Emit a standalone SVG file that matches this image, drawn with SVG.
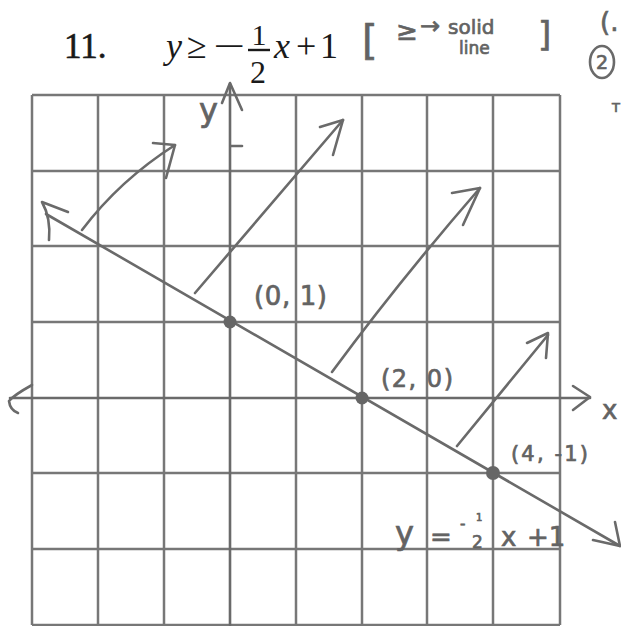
<svg xmlns="http://www.w3.org/2000/svg" width="621" height="626" viewBox="0 0 621 626">
<style>
.grid{stroke:#777;stroke-width:2.5;fill:none}
.pen{stroke:#6a6a6a;stroke-width:2.6;fill:none;stroke-linecap:round;stroke-linejoin:round}
.hand{font-family:"DejaVu Sans",sans-serif;fill:#636363;stroke:#636363;stroke-width:0.7}
.print{font-family:"Liberation Serif",serif;fill:#1a1a1a}
</style>
<rect width="621" height="626" fill="#fff"/>
<g id="title">
<text class="print" x="64" y="58" font-size="35" stroke="#1a1a1a" stroke-width="0.6">11.</text>
<text class="print" x="166" y="58" font-size="36" font-style="italic">y</text>
<text class="print" x="187" y="58" font-size="36">≥</text>
<text class="print" x="213" y="58" font-size="36" textLength="32" lengthAdjust="spacingAndGlyphs">−</text>
<text class="print" x="259" y="45" font-size="30" text-anchor="middle">1</text>
<line x1="248" y1="50" x2="270" y2="50" stroke="#1a1a1a" stroke-width="2.4"/>
<text class="print" x="258" y="83" font-size="32" text-anchor="middle">2</text>
<text class="print" x="274" y="58" font-size="36" font-style="italic">x</text>
<text class="print" x="296" y="58" font-size="36">+</text>
<text class="print" x="320" y="58" font-size="36">1</text>
</g>
<g id="note">
<text class="hand" x="362" y="54" font-size="40">[</text>
<text class="hand" x="396" y="40" font-size="26">≥</text>
<text class="hand" x="420" y="34" font-size="24">→</text>
<text class="hand" x="448" y="34" font-size="20">solid</text>
<text class="hand" x="459" y="54" font-size="17">line</text>
<text class="hand" x="538" y="46" font-size="34">]</text>
<text class="hand" x="600" y="31" font-size="26">(.</text>
<ellipse cx="602" cy="62" rx="12" ry="16" class="pen" stroke-width="2.2"/>
<text class="hand" x="602" y="69" font-size="19" text-anchor="middle">2</text>
<text class="hand" x="612" y="112" font-size="13">T</text>
</g>
<g id="grid" class="grid">
<path d="M32,95V625M98,95V625M164,95V625M296,95V625M362,95V625M427,95V625M493,95V625M560,95V625"/>
<path d="M32,95H560M32,171H560M32,246H560M32,322H560M32,473H560M32,549H560M32,625H560"/>
</g>
<g id="axes" class="pen">
<path d="M230,84V625"/>
<path d="M222,103L230,83L242,110"/>
<path d="M231,146H242"/>
<path d="M10,398H590"/>
<path d="M32,385Q14,395 9,401Q10,410 18,413"/>
<path d="M573,386L590,397L573,410"/>
</g>
<g id="axis-labels">
<text class="hand" x="199" y="121" font-size="32">y</text>
<text class="hand" x="602" y="419" font-size="26">x</text>
</g>
<g id="boundary" class="pen" stroke-width="3">
<path d="M46,214L620,546"/>
<path d="M68,212L42,202Q51,218 49,240"/>
<path d="M615,522L620,546L593,540"/>
</g>
<g id="points" fill="#666">
<circle cx="230" cy="322" r="6.5"/>
<circle cx="362" cy="398" r="6.5"/>
<circle cx="493" cy="473" r="7"/>
</g>
<g id="shading" class="pen">
<path d="M82,230Q120,180 175,145"/>
<path d="M153,143L175,145L166,178"/>
<path d="M195,293L343,120"/>
<path d="M320,127L343,120L333,155"/>
<path d="M332,372Q400,280 480,188"/>
<path d="M452,193L480,188L463,225"/>
<path d="M457,446L548,335"/>
<path d="M527,343L548,333L546,358"/>
</g>
<g id="labels">
<text class="hand" x="254" y="305" font-size="26" textLength="73" lengthAdjust="spacing">(0, 1)</text>
<text class="hand" x="381" y="387" font-size="24" textLength="72" lengthAdjust="spacing">(2, 0)</text>
<text class="hand" x="511" y="461" font-size="21" textLength="77" lengthAdjust="spacing">(4, -1)</text>
<text class="hand" x="395" y="544" font-size="32">y</text>
<text class="hand" x="430" y="546" font-size="26">=</text>
<text class="hand" x="460" y="529" font-size="15">-</text>
<text class="hand" x="476" y="521" font-size="10">1</text>
<text class="hand" x="472" y="548" font-size="17">2</text>
<text class="hand" x="501" y="546" font-size="26">x</text>
<text class="hand" x="527" y="546" font-size="26">+1</text>
</g>
</svg>
